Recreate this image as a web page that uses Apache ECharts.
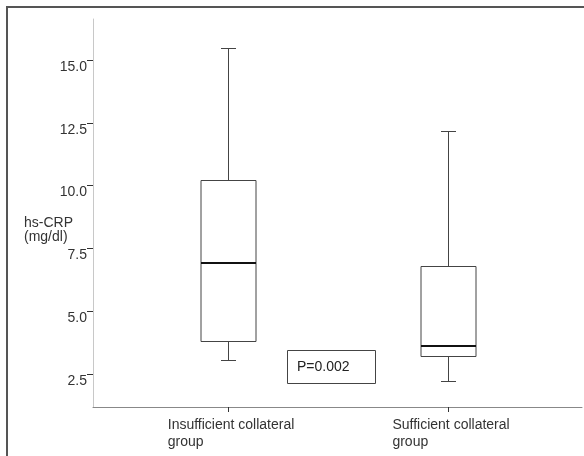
<!DOCTYPE html>
<html>
<head>
<meta charset="utf-8">
<script src="https://cdn.jsdelivr.net/npm/echarts@6/dist/echarts.min.js"></script>
<style>
  html, body { margin: 0; padding: 0; background: #fff; }
  #main { width: 584px; height: 456px; }
</style>
</head>
<body>
<div id="main"></div>
<script>
// 数据
var categories = ['Insufficient collateral group', 'Sufficient collateral group'];
var lowWhisker = [3.05, 2.22];
var q1 = [3.81, 3.21];
var median = [6.94, 3.63];
var q3 = [10.23, 6.81];
var highWhisker = [15.48, 12.18];
var yTicks = [2.5, 5.0, 7.5, 10.0, 12.5, 15.0];
var pText = 'P=0.002';

var boxData = categories.map(function (c, i) {
    return [i, lowWhisker[i], q1[i], median[i], q3[i], highWhisker[i]];
});

var font = 'Liberation Sans, Arial, sans-serif';
var chart = echarts.init(document.getElementById('main'));

function px(v) { return Math.round(v) + 0.5; }

// 箱线图（自绘，须短横线）
function renderBox(params, api) {
    var i = api.value(0);
    var lo = api.coord([i, api.value(1)]);
    var b1 = api.coord([i, api.value(2)]);
    var md = api.coord([i, api.value(3)]);
    var b3 = api.coord([i, api.value(4)]);
    var hi = api.coord([i, api.value(5)]);
    var cx = px(lo[0]);
    var halfBox = 27.5, halfCap = 7.5;
    var lineStyle = { stroke: '#444', lineWidth: 1, fill: null };
    return {
        type: 'group',
        children: [
            { type: 'line', shape: { x1: cx, y1: px(hi[1]), x2: cx, y2: px(b3[1]) }, style: lineStyle },
            { type: 'line', shape: { x1: cx - halfCap, y1: px(hi[1]), x2: cx + halfCap, y2: px(hi[1]) }, style: lineStyle },
            { type: 'line', shape: { x1: cx, y1: px(b1[1]), x2: cx, y2: px(lo[1]) }, style: lineStyle },
            { type: 'line', shape: { x1: cx - halfCap, y1: px(lo[1]), x2: cx + halfCap, y2: px(lo[1]) }, style: lineStyle },
            { type: 'rect', shape: { x: cx - halfBox, y: px(b3[1]), width: halfBox * 2, height: Math.round(b1[1]) - Math.round(b3[1]) },
              style: { stroke: '#444', lineWidth: 1, fill: '#fff' } },
            { type: 'line', shape: { x1: cx - halfBox, y1: Math.round(md[1]), x2: cx + halfBox, y2: Math.round(md[1]) },
              style: { stroke: '#111', lineWidth: 2 } }
        ]
    };
}

var option = {
    backgroundColor: '#fff',
    animation: false,
    grid: { left: 93, right: 2, top: 19, bottom: 49 },
    xAxis: {
        type: 'value',
        min: -0.614,
        max: 1.609,
        splitLine: { show: false },
        axisLine: { onZero: false, lineStyle: { color: '#888', width: 1 } },
        axisTick: { show: true, length: 5, customValues: [0, 1], lineStyle: { color: '#333' } },
        axisLabel: {
            customValues: [0, 1],
            margin: 10,
            align: 'center',
            padding: [0, 0, 0, 6],
            formatter: function (v) {
                var name = categories[Math.round(v)];
                var k = name.lastIndexOf(' ');
                return '{a|' + name.slice(0, k) + '}\n{a|' + name.slice(k + 1) + '}';
            },
            rich: {
                a: { align: 'left', fontSize: 14, lineHeight: 17, color: '#333', fontFamily: font }
            }
        }
    },
    yAxis: {
        type: 'value',
        min: 1.19,
        max: 16.63,
        name: 'hs-CRP\n(mg/dl)',
        nameLocation: 'middle',
        nameRotate: 0,
        nameGap: 69,
        nameMoveOverlap: false,
        nameTextStyle: {
            align: 'left', verticalAlign: 'top', fontSize: 14, lineHeight: 14,
            padding: [3, 0, 0, 0],
            color: '#333', fontFamily: font
        },
        splitLine: { show: false },
        axisLine: { show: true, onZero: false, lineStyle: { color: '#c8c8c8', width: 1 } },
        axisTick: { show: true, length: 6, customValues: yTicks, lineStyle: { color: '#333' } },
        axisLabel: {
            customValues: yTicks,
            margin: 6,
            verticalAlign: 'top',
            fontSize: 14,
            color: '#333',
            fontFamily: font,
            formatter: function (v) { return v.toFixed(1); }
        }
    },
    graphic: [
        { type: 'rect', z: 100, silent: true, shape: { x: 7, y: 7, width: 700, height: 600 },
          style: { fill: null, stroke: '#555', lineWidth: 2 } },
        { type: 'rect', z: 100, shape: { x: 287.5, y: 350.5, width: 88, height: 33 },
          style: { fill: '#fff', stroke: '#444', lineWidth: 1 } },
        { type: 'text', z: 101, x: 297, y: 367,
          style: { text: pText, fontSize: 14, fontFamily: font, fill: '#222', verticalAlign: 'middle' } }
    ],
    series: [{
        type: 'custom',
        renderItem: renderBox,
        encode: { x: 0, y: [1, 2, 3, 4, 5] },
        data: boxData
    }]
};
chart.setOption(option);
</script>
</body>
</html>
